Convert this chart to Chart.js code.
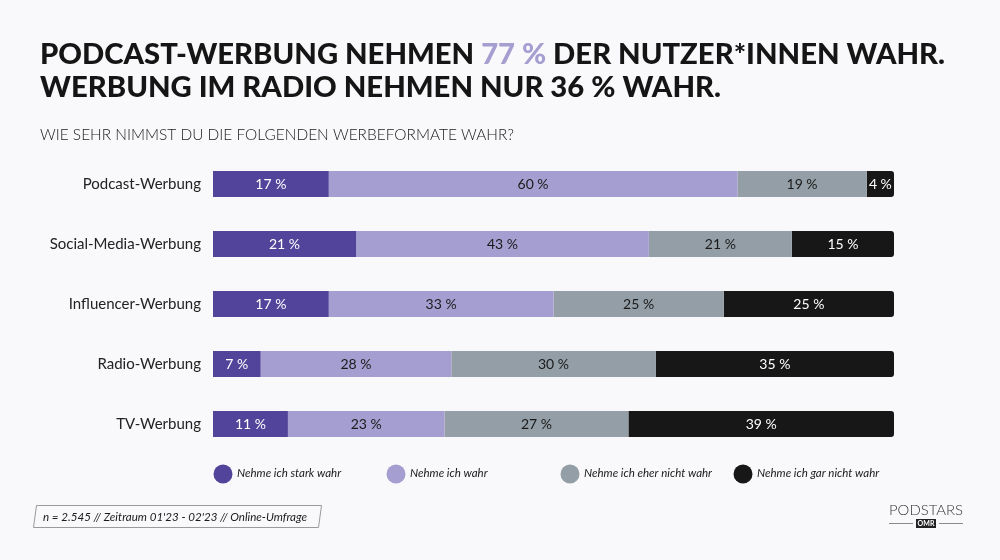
<!DOCTYPE html>
<html><head><meta charset="utf-8">
<script src="https://cdn.jsdelivr.net/npm/chart.js@4/dist/chart.umd.min.js"></script>
<style>html,body{margin:0;padding:0;background:#f9f9fb;}#wrap{width:1000px;height:560px;position:relative;}</style>
</head><body><div id="wrap"><canvas id="c" width="1000" height="560"></canvas></div>
<script>
const categories = ['Podcast-Werbung','Social-Media-Werbung','Influencer-Werbung','Radio-Werbung','TV-Werbung'];
const seriesNames = ['Nehme ich stark wahr','Nehme ich wahr','Nehme ich eher nicht wahr','Nehme ich gar nicht wahr'];
const starkWahr = [17,21,17,7,11];
const wahr = [60,43,33,28,23];
const eherNichtWahr = [19,21,25,30,27];
const garNichtWahr = [4,15,25,35,39];
const seriesColors = ['#52449a','#a59ed0','#939ea6','#171717'];
const labelColors = ['#ffffff','#1a1a1a','#1a1a1a','#ffffff'];
const titleLine1 = ['PODCAST-WERBUNG NEHMEN ','77 %',' DER NUTZER*INNEN WAHR.'];
const titleLine2 = 'WERBUNG IM RADIO NEHMEN NUR 36 % WAHR.';
const subtitle = 'WIE SEHR NIMMST DU DIE FOLGENDEN WERBEFORMATE WAHR?';
const footnote = "n = 2.545 // Zeitraum 01'23 - 02'23 // Online-Umfrage";

const F = 'Lato, "Noto Sans", sans-serif';
const seriesData = [starkWahr, wahr, eherNichtWahr, garNichtWahr];

const bgPlugin = {
  id:'bg',
  beforeDraw(chart){
    const ctx = chart.ctx; ctx.save(); ctx.fillStyle='#f9f9fb'; ctx.fillRect(0,0,chart.width,chart.height); ctx.restore();
  }
};

function fitText(ctx, parts, colors, x, y, targetW){
  ctx.save();
  ctx.textAlign='left';
  const full = parts.join('');
  const w = ctx.measureText(full).width;
  const s = targetW / w;
  ctx.translate(x,y); ctx.scale(s,1);
  let cx = 0;
  parts.forEach((p,i)=>{ ctx.fillStyle=colors[i]; ctx.fillText(p,cx,0); cx += ctx.measureText(p).width; });
  ctx.restore();
}

const decoPlugin = {
  id:'deco',
  afterDraw(chart){
    const ctx = chart.ctx;
    ctx.save();
    ctx.textBaseline='alphabetic'; ctx.textAlign='left';
    ctx.font = '900 29px ' + F;
    fitText(ctx, titleLine1, ['#151515','#a59ed0','#151515'], 40, 64, 905);
    fitText(ctx, [titleLine2], ['#151515'], 40, 97, 681);
    ctx.font = '300 16px ' + F;
    fitText(ctx, [subtitle], ['#1a1a1a'], 40, 140, 474);

    // data labels
    ctx.font = '14px ' + F; ctx.textAlign='center'; ctx.textBaseline='middle';
    chart.data.datasets.forEach((ds,di)=>{
      const meta = chart.getDatasetMeta(di);
      meta.data.forEach((bar,i)=>{
        const v = ds.data[i];
        const cx = (bar.x + bar.base)/2;
        ctx.fillStyle = labelColors[di];
        ctx.fillText(v + ' %', cx, bar.y);
      });
    });

    // legend
    ctx.font = 'italic 11.5px ' + F; ctx.textAlign='left'; ctx.textBaseline='middle';
    const lx = [223, 396, 570, 743];
    seriesNames.forEach((n,i)=>{
      ctx.fillStyle = seriesColors[i];
      ctx.beginPath(); ctx.arc(lx[i], 474, 9.5, 0, Math.PI*2); ctx.fill();
      ctx.fillStyle = '#1a1a1a';
      ctx.fillText(n, lx[i]+14, 473);
    });

    // footnote box
    ctx.strokeStyle='#9a9a9a'; ctx.lineWidth=1;
    ctx.beginPath(); ctx.moveTo(36.5,505.5); ctx.lineTo(321.5,505.5); ctx.lineTo(318.5,527.5); ctx.lineTo(33.5,527.5); ctx.closePath(); ctx.stroke();
    ctx.textBaseline='middle';
    ctx.font='italic 12px ' + F;
    fitText(ctx,[footnote],['#1a1a1a'],43,517,264);

    // logo
    ctx.font='300 13px ' + F;
    fitText(ctx,['PODSTARS'],['#333'],889,511,74);
    ctx.strokeStyle='#8a8a8a'; ctx.lineWidth=1.2;
    ctx.beginPath(); ctx.moveTo(889,523.5); ctx.lineTo(913,523.5); ctx.moveTo(939,523.5); ctx.lineTo(963,523.5); ctx.stroke();
    ctx.fillStyle='#222'; ctx.fillRect(916,519,20,9);
    ctx.fillStyle='#fff'; ctx.font='bold 7px ' + F; ctx.textAlign='center'; ctx.textBaseline='middle';
    ctx.fillText('OMR',926,523.5);
    ctx.restore();
  }
};

const datasets = seriesNames.map((n,i)=>({
  label:n,
  data:seriesData[i],
  backgroundColor:seriesColors[i],
  borderWidth:0,
  borderSkipped:false,
  borderRadius: i===3 ? {topLeft:0,bottomLeft:0,topRight:3,bottomRight:3} : 0,
  barPercentage: 26/60,
  categoryPercentage:1
}));

new Chart(document.getElementById('c'),{
  type:'bar',
  data:{labels:categories, datasets},
  options:{
    indexAxis:'y', responsive:false, animation:false, devicePixelRatio:1,
    layout:{padding:{top:154,bottom:106,right:106,left:0}},
    plugins:{legend:{display:false},tooltip:{enabled:false}},
    scales:{
      x:{stacked:true,min:0,max:100,display:false},
      y:{stacked:true,grid:{display:false},border:{display:false},
         ticks:{color:'#222',font:{family:F,size:15},padding:4},
         afterFit(s){s.width=213;}}
    }
  },
  plugins:[bgPlugin,decoPlugin]
});
</script></body></html>
